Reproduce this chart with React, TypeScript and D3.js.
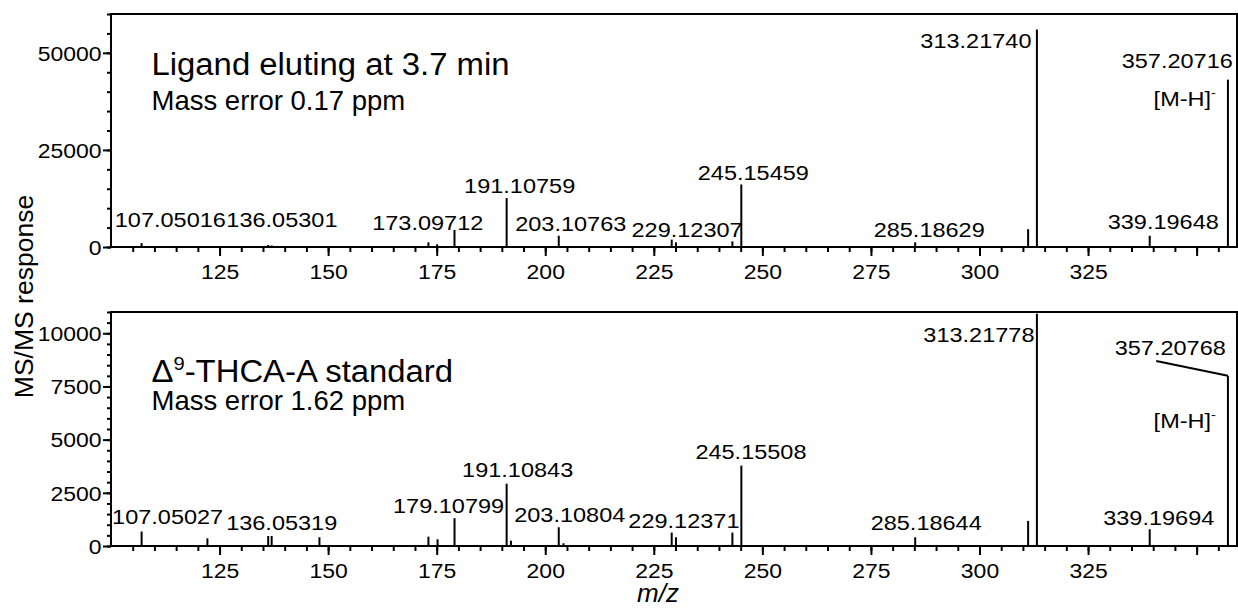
import React, { useEffect, useRef } from 'react';
import * as d3 from 'd3';

const WIDTH = 1238;
const HEIGHT = 608;
const FONT = "'Liberation Sans', Arial, Helvetica, sans-serif";
const SX = 1.12; // the original lettering is a bit wide

// shared m/z axis
const mzDomain = [100, 359.3];
const xMajorTicks = [125, 150, 175, 200, 225, 250, 275, 300, 325, 350];
const xTickLabels = ['125', '150', '175', '200', '225', '250', '275', '300', '325', ''];

// top: ligand eluting at 3.7 min
const ligandMz = [107.05, 136.2, 137.0, 173.1, 175.1, 179.1, 191.11, 203.11, 229.12, 230.1, 243.1, 245.15, 285.19, 311.2, 313.22, 339.2, 357.21];
const ligandResponse = [1000, 500, 400, 1200, 700, 4400, 12600, 2900, 1900, 1200, 1450, 16100, 1200, 4600, 56000, 2900, 43100];
const ligandLabels = ['107.05016', '136.05301', '173.09712', '191.10759', '203.10763', '229.12307', '245.15459', '285.18629', '313.21740', '339.19648', '357.20716'];
const ligandLabelMz = [107.05, 136.2, 173.1, 191.11, 203.11, 229.12, 245.15, 285.19, 313.22, 339.2, 357.21];
const ligandYTicks = [0, 25000, 50000];

// bottom: THCA-A standard
const thcaMz = [107.05, 122.2, 136.2, 137.0, 148.0, 173.1, 175.2, 179.11, 191.11, 192.1, 203.11, 204.2, 229.12, 230.1, 243.1, 245.16, 285.19, 311.2, 313.22, 339.2, 357.21];
const thcaResponse = [680, 360, 470, 470, 410, 440, 315, 1310, 2930, 250, 880, 130, 630, 410, 630, 3780, 410, 1180, 10920, 790, 8000];
const thcaLabels = ['107.05027', '136.05319', '179.10799', '191.10843', '203.10804', '229.12371', '245.15508', '285.18644', '313.21778', '339.19694', '357.20768'];
const thcaLabelMz = [107.05, 136.2, 179.11, 191.11, 203.11, 229.12, 245.16, 285.19, 313.22, 339.2, 357.21];
const thcaYTicks = [0, 2500, 5000, 7500, 10000];

// label placement (px): horizontal shift from the peak, height above the baseline
const ligandLabelDx = [28.7, 13.7, -0.7, 13, 12, 15.4, 12, 14, -61, 13.5, -50.7];
const ligandLabelLift = [20, 20, 17, 54.3, 16.3, 10.3, 67, 10.3, 199.3, 18, 178.7];
const thcaLabelDx = [26, 13.5, -6, 11, 11, 12.2, 9.6, 11, -58, 9, -57.7];
const thcaLabelLift = [22, 16, 32.7, 69.3, 24.3, 17.7, 86.7, 16, 203.7, 21, 191];

function drawPanel(svg, p) {
  const x = d3.scaleLinear().domain(mzDomain).range([111, 1237]);
  const y = d3.scaleLinear().domain([0, p.yMax]).range([p.bottom, p.top]);
  const g = svg.append('g');

  // frame
  g.append('rect')
    .attr('x', 111).attr('y', p.top)
    .attr('width', 1237 - 111).attr('height', p.bottom - p.top)
    .attr('fill', 'none').attr('stroke', '#000').attr('stroke-width', 2);

  // x axis, minor then major
  const xMinor = g.append('g').attr('transform', `translate(0,${p.bottom})`)
    .call(d3.axisBottom(x).tickValues(d3.range(105, 359, 5)).tickSize(5).tickFormat(() => ''));
  const xMaj = g.append('g').attr('transform', `translate(0,${p.bottom})`)
    .call(d3.axisBottom(x).tickValues(xMajorTicks).tickSize(9).tickFormat((d, i) => xTickLabels[i]));
  [xMinor, xMaj].forEach(a => {
    a.select('.domain').remove();
    a.selectAll('line').attr('stroke-width', 2);
  });
  xMaj.selectAll('text')
    .attr('y', 17).attr('dy', '0.71em')
    .attr('transform', `scale(${SX},1)`)
    .style('font-family', FONT).style('font-size', '20.5px').attr('fill', '#000');

  // y axis
  const yMinor = g.append('g').attr('transform', 'translate(111,0)')
    .call(d3.axisLeft(y).tickValues(d3.range(0, p.yMax + 1, p.yMinor)).tickSize(4).tickFormat(() => ''));
  const yMaj = g.append('g').attr('transform', 'translate(111,0)')
    .call(d3.axisLeft(y).tickValues(p.yTicks).tickSize(8).tickFormat(d3.format('d')));
  [yMinor, yMaj].forEach(a => {
    a.select('.domain').remove();
    a.selectAll('line').attr('stroke-width', 2);
  });
  yMaj.selectAll('text')
    .attr('x', -9.5 / SX).attr('dy', '0.35em')
    .attr('transform', `scale(${SX},1)`)
    .style('font-family', FONT).style('font-size', '20.5px').attr('fill', '#000');

  // peaks
  g.selectAll('.peak')
    .data(p.mz.map((m, i) => ({ m, v: p.resp[i] })))
    .enter().append('line')
    .attr('class', 'peak')
    .attr('x1', d => x(d.m)).attr('x2', d => x(d.m))
    .attr('y1', p.bottom).attr('y2', d => y(d.v))
    .attr('stroke', '#000').attr('stroke-width', 2);

  // peak labels
  p.labels.forEach((t, i) => {
    const lx = x(p.labelMz[i]) + p.dx[i];
    const ly = p.bottom - p.lift[i];
    g.append('text')
      .attr('transform', `translate(${lx},${ly}) scale(${SX},1)`)
      .attr('text-anchor', 'middle')
      .style('font-family', FONT).style('font-size', '21px')
      .text(t);
  });

  // precursor annotation
  const last = p.mz.length - 1;
  const px = x(p.mz[last]);
  const mh = g.append('text')
    .attr('transform', `translate(${px - 12},${p.bottom - p.mhLift}) scale(${SX},1)`)
    .attr('text-anchor', 'end')
    .style('font-family', FONT).style('font-size', '21px');
  mh.append('tspan').text('[M-H]');
  mh.append('tspan').attr('dy', -9).style('font-size', '13px').text('-');

  if (p.leader) {
    const li = p.labels.length - 1;
    const cx = x(p.labelMz[li]) + p.dx[li];
    g.append('line')
      .attr('x1', cx - 14).attr('y1', p.bottom - p.lift[li] + 6)
      .attr('x2', px).attr('y2', y(p.resp[last]))
      .attr('stroke', '#000').attr('stroke-width', 2);
  }

  // titles
  const title = g.append('text')
    .attr('transform', `translate(151.5,${p.titleY}) scale(1.06,1)`)
    .style('font-family', FONT).style('font-size', '31px');
  p.title.forEach(([t, sup], i) => {
    if (sup) title.append('tspan').attr('dy', -12).style('font-size', '19px').text(t);
    else title.append('tspan').attr('dy', i > 0 ? 12 : 0).text(t);
  });
  g.append('text')
    .attr('x', 151.5).attr('y', p.subY)
    .style('font-family', FONT).style('font-size', '27.5px')
    .text(p.subtitle);
}

export default function App() {
  const ref = useRef(null);

  useEffect(() => {
    const svg = d3.select(ref.current);
    svg.selectAll('*').remove();

    drawPanel(svg, {
      top: 14, bottom: 247, yMax: 60000, yTicks: ligandYTicks, yMinor: 5000,
      mz: ligandMz, resp: ligandResponse,
      labels: ligandLabels, labelMz: ligandLabelMz, dx: ligandLabelDx, lift: ligandLabelLift,
      mhLift: 141, leader: false,
      title: [['Ligand eluting at 3.7 min', false]], titleY: 75,
      subtitle: 'Mass error 0.17 ppm', subY: 110,
    });
    drawPanel(svg, {
      top: 312, bottom: 546, yMax: 11000, yTicks: thcaYTicks, yMinor: 500,
      mz: thcaMz, resp: thcaResponse,
      labels: thcaLabels, labelMz: thcaLabelMz, dx: thcaLabelDx, lift: thcaLabelLift,
      mhLift: 117.7, leader: true,
      title: [['Δ', false], ['9', true], ['-THCA-A standard', false]], titleY: 381.7,
      subtitle: 'Mass error 1.62 ppm', subY: 410,
    });

    svg.append('text')
      .attr('transform', 'translate(33,296.5) rotate(-90)')
      .attr('text-anchor', 'middle')
      .style('font-family', FONT).style('font-size', '26.5px')
      .text('MS/MS response');

    svg.append('text')
      .attr('x', 658).attr('y', 602)
      .attr('text-anchor', 'middle')
      .style('font-family', FONT).style('font-size', '26px').style('font-style', 'italic')
      .text('m/z');
  }, []);

  return (
    <svg ref={ref} width={WIDTH} height={HEIGHT}
      style={{ position: 'absolute', left: 0, top: 0, background: '#fff', display: 'block' }} />
  );
}
